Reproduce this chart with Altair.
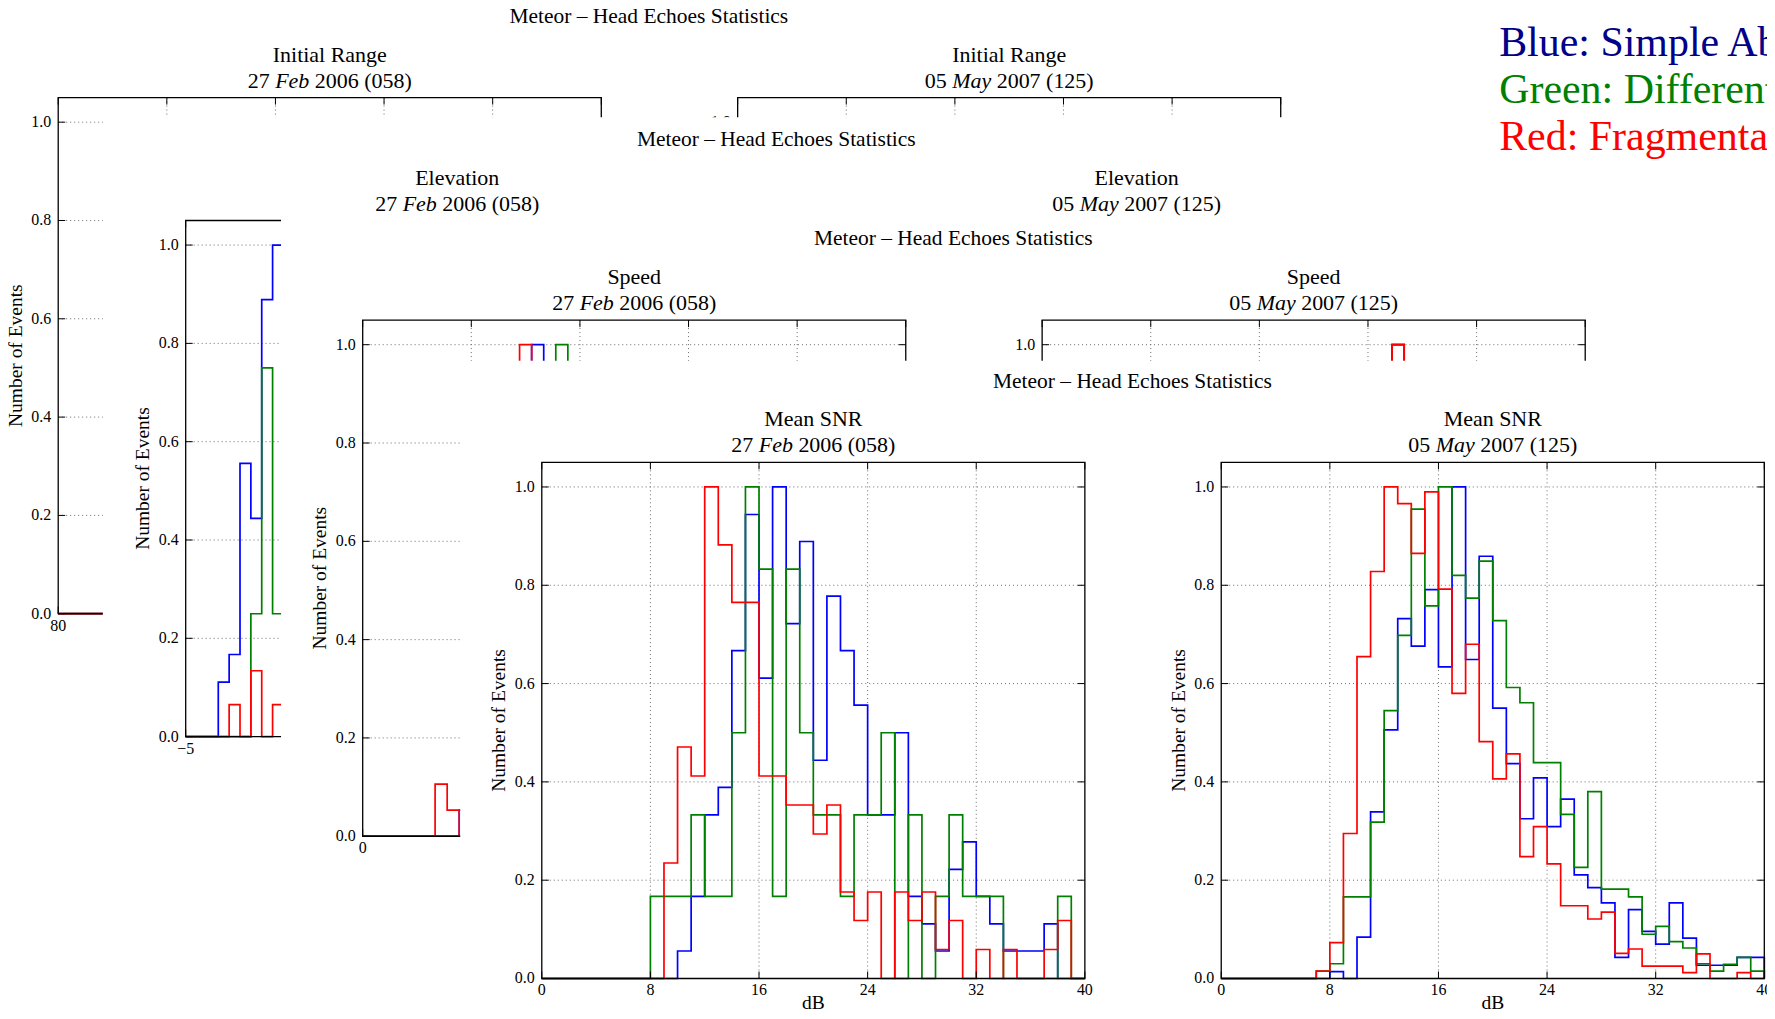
import altair as alt
import pandas as pd

FONT = "Liberation Serif"

# ------------------------------------------------------------------ data
Y_TICKS = [0.0, 0.2, 0.4, 0.6, 0.8, 1.0]
Y_TICK_LABELS = ["0.0", "0.2", "0.4", "0.6", "0.8", "1.0"]

RANGE_TICKS = [80, 90, 100, 110, 120, 130]
RANGE_TICK_LABELS = ["80", "90", "100", "110", "120", "130"]
ELEV_TICKS = [-5, 15, 35, 55, 75, 95]
ELEV_TICK_LABELS = ["\u22125", "15", "35", "55", "75", "95"]
SPEED_TICKS = [0, 15, 30, 45, 60, 75]
SPEED_TICK_LABELS = ["0", "15", "30", "45", "60", "75"]
SNR_TICKS = [0, 8, 16, 24, 32, 40]
SNR_TICK_LABELS = ["0", "8", "16", "24", "32", "40"]

# Initial Range, 27 Feb 2006 (only the first bins are visible)
range_feb_start, range_feb_bin = 80, 1
range_feb_blue = [0, 0, 0, 0, 0, 0]
range_feb_green = [0, 0, 0, 0, 0, 0]
range_feb_red = [0, 0, 0, 0, 0, 0]

# Elevation, 27 Feb 2006 (visible part), 2-degree bins from -5
elev_feb_start, elev_feb_bin = -5, 2
elev_feb_blue = [0, 0, 0, 0.111, 0.167, 0.556, 0.444, 0.889, 1.0]
elev_feb_green = [0, 0, 0, 0, 0, 0, 0.25, 0.75, 0.25]
elev_feb_red = [0, 0, 0, 0, 0.065, 0, 0.134, 0, 0.065]

# Speed (visible parts), bins of 5/3 km/s from 0
speed_bin = 5 / 3
speed_feb_blue = [0, 0, 0, 0, 0, 0, 0, 0, 0.053, 0, 0, 0, 0, 0, 1.0]
speed_feb_green = [0, 0, 0, 0, 0, 0, 0, 0, 0, 0, 0, 0, 0, 0, 0, 0, 1.0]
speed_feb_red = [0, 0, 0, 0, 0, 0, 0.106, 0.053, 0, 0, 0, 0, 0, 1.0]
speed_may_first_bin = 29
speed_may_blue = [1.0]
speed_may_green = [1.0]
speed_may_red = [1.0]

# Mean SNR, 1-dB bins from 0 to 40 dB
snr_start, snr_bin = 0, 1
snr_feb_blue = [0, 0, 0, 0, 0, 0, 0, 0, 0, 0,
                0.056, 0.167, 0.333, 0.389, 0.667, 0.944, 0.611, 1.0, 0.722, 0.889,
                0.444, 0.778, 0.667, 0.556, 0.333, 0.333, 0.5, 0.167, 0.111, 0.056,
                0.222, 0.278, 0.167, 0.111, 0.056, 0.056, 0.056, 0.111, 0.0, 0.0]
snr_feb_green = [0, 0, 0, 0, 0, 0, 0, 0, 0.167, 0.167,
                 0.167, 0.333, 0.167, 0.167, 0.5, 1.0, 0.833, 0.167, 0.833, 0.5,
                 0.333, 0.333, 0.167, 0.333, 0.333, 0.5, 0.0, 0.333, 0.0, 0.167,
                 0.333, 0.167, 0.167, 0.167, 0.0, 0.0, 0.0, 0.0, 0.167, 0.0]
snr_feb_red = [0, 0, 0, 0, 0, 0, 0, 0, 0, 0.235,
               0.471, 0.412, 1.0, 0.882, 0.765, 0.765, 0.412, 0.412, 0.353, 0.353,
               0.294, 0.353, 0.176, 0.118, 0.176, 0.0, 0.176, 0.118, 0.176, 0.059,
               0.118, 0.0, 0.059, 0.0, 0.059, 0.0, 0.0, 0.059, 0.118, 0.0]
snr_may_blue = [0, 0, 0, 0, 0, 0, 0, 0, 0.014, 0.0,
                0.084, 0.339, 0.506, 0.732, 0.676, 0.791, 0.634, 1.0, 0.649, 0.859,
                0.55, 0.437, 0.325, 0.408, 0.309, 0.365, 0.211, 0.185, 0.154, 0.043,
                0.14, 0.096, 0.07, 0.154, 0.082, 0.027, 0.027, 0.027, 0.043, 0.043]
snr_may_green = [0, 0, 0, 0, 0, 0, 0, 0.015, 0.03, 0.166,
                 0.166, 0.318, 0.545, 0.698, 0.955, 0.758, 1.0, 0.82, 0.774, 0.849,
                 0.728, 0.592, 0.561, 0.439, 0.439, 0.334, 0.226, 0.38, 0.182, 0.182,
                 0.166, 0.09, 0.106, 0.075, 0.062, 0.03, 0.015, 0.029, 0.043, 0.015]
snr_may_red = [0, 0, 0, 0, 0, 0, 0, 0.015, 0.073, 0.295,
               0.655, 0.828, 1.0, 0.966, 0.865, 0.99, 0.792, 0.58, 0.68, 0.482,
               0.406, 0.457, 0.248, 0.309, 0.233, 0.148, 0.148, 0.121, 0.135, 0.051,
               0.06, 0.025, 0.025, 0.025, 0.012, 0.05, 0.0, 0.0, 0.012, 0.0]

SUPTITLE = "Meteor \u2013 Head Echoes Statistics"
DATE_FEB = ("27", "Feb", "2006 (058)")
DATE_MAY = ("05", "May", "2007 (125)")
LEGEND_LINES = ["Blue: Simple Ablation", "Green: Differential Ablation", "Red: Fragmentation"]
LEGEND_COLORS = ["#000088", "#008000", "#ff0000"]

# ------------------------------------------------------------------ layout / style
W, H = 1762, 1003
OFF = 8.0
PW, PH = 544.0, 517.0
YMAX = 1.05
DX_RIGHT = 680.6
TICK_LEN = 7.0
TITLE_FS = 21.5
PANEL_FS = 22
TICK_FS = 16
LABEL_FS = 19.5
LEGEND_FS = 42

GRID = dict(color="#6a6a6a", strokeWidth=1, strokeDash=[1, 3])
COLORS = {"blue": "#0000ff", "green": "#008000", "red": "#ff0000"}

FIGS = [dict(L=58.3, B=613.9), dict(L=186.0, B=737.0),
        dict(L=363.3, B=836.8), dict(L=542.7, B=979.3)]
WINDOWS = [None, (103.0, 116.5), (281.5, 218.0), (461.0, 360.5)]

TIMES = {" ": 0.25, "(": 0.333, ")": 0.333}
TIMES_IT = {"F": 0.611, "e": 0.444, "b": 0.5, "M": 0.833, "a": 0.5, "y": 0.444}


def text_w(s, table):
    return sum(table.get(c, 0.5) for c in s)


def one_row():
    return pd.DataFrame({"k": [0]})


def step_frame(start, width, vals):
    xs, ys = [start], [0.0]
    for i, v in enumerate(vals):
        xs += [start + i * width, start + (i + 1) * width]
        ys += [v, v]
    xs.append(start + len(vals) * width)
    ys.append(0.0)
    return pd.DataFrame({"x": xs, "y": ys, "i": list(range(len(xs)))})


def panel(L, B, xdom, ticks, tick_labels, name, date, hists, xlabel=None):
    x0p = L - OFF
    yb = B - OFF
    sx = alt.Scale(domain=list(xdom), range=[x0p, x0p + PW], nice=False, zero=False)
    sy = alt.Scale(domain=[0, YMAX], range=[yb, yb - PH], nice=False, zero=False)

    def X(f):
        return alt.X(f"{f}:Q", scale=sx, axis=None)

    def Y(f):
        return alt.Y(f"{f}:Q", scale=sy, axis=None)

    xmin, xmax = xdom
    cx = (xmin + xmax) / 2
    tkx = TICK_LEN / PW * (xmax - xmin)
    tky = TICK_LEN / PH * YMAX
    layers = []

    inner_x = [t for t in ticks if xmin < t < xmax]
    inner_y = [t for t in Y_TICKS if 0 < t < YMAX]
    layers.append(alt.Chart(pd.DataFrame({"x": inner_x, "y0": 0.0, "y1": YMAX}))
                  .mark_rule(**GRID).encode(x=X("x"), y=Y("y0"), y2="y1"))
    layers.append(alt.Chart(pd.DataFrame({"y": inner_y, "x0": xmin, "x1": xmax}))
                  .mark_rule(**GRID).encode(y=Y("y"), x=X("x0"), x2="x1"))

    for color, start, width, vals in hists:
        layers.append(alt.Chart(step_frame(start, width, vals))
                      .mark_line(color=COLORS[color], strokeWidth=1.7, strokeJoin="miter")
                      .encode(x=X("x"), y=Y("y"), order="i:Q"))

    layers.append(alt.Chart(pd.DataFrame({"x0": [xmin], "x1": [xmax], "y0": [0.0], "y1": [YMAX]}))
                  .mark_rect(fill="white", fillOpacity=0, stroke="black", strokeWidth=1.3)
                  .encode(x=X("x0"), x2="x1", y=Y("y0"), y2="y1"))

    vt = pd.DataFrame({"x": ticks + ticks,
                       "a": [0.0] * len(ticks) + [YMAX] * len(ticks),
                       "b": [tky] * len(ticks) + [YMAX - tky] * len(ticks)})
    layers.append(alt.Chart(vt).mark_rule(color="black", strokeWidth=1)
                  .encode(x=X("x"), y=Y("a"), y2="b"))
    ht = pd.DataFrame({"y": Y_TICKS + Y_TICKS,
                       "a": [xmin] * len(Y_TICKS) + [xmax] * len(Y_TICKS),
                       "b": [xmin + tkx] * len(Y_TICKS) + [xmax - tkx] * len(Y_TICKS)})
    layers.append(alt.Chart(ht).mark_rule(color="black", strokeWidth=1)
                  .encode(y=Y("y"), x=X("a"), x2="b"))

    layers.append(alt.Chart(pd.DataFrame({"x": xmin, "y": Y_TICKS, "t": Y_TICK_LABELS}))
                  .mark_text(align="right", baseline="middle", dx=-7, font=FONT, fontSize=TICK_FS, color="black")
                  .encode(x=X("x"), y=Y("y"), text="t:N"))
    layers.append(alt.Chart(pd.DataFrame({"x": ticks, "y": 0.0, "t": tick_labels}))
                  .mark_text(align="center", baseline="top", dy=4, font=FONT, fontSize=TICK_FS, color="black")
                  .encode(x=X("x"), y=Y("y"), text="t:N"))

    layers.append(alt.Chart(pd.DataFrame({"x": [xmin], "y": [YMAX / 2]}))
                  .mark_text(text="Number of Events", angle=270, align="center", baseline="middle",
                             xOffset=-42.5, font=FONT, fontSize=LABEL_FS, color="black")
                  .encode(x=X("x"), y=Y("y")))
    if xlabel:
        layers.append(alt.Chart(pd.DataFrame({"x": [cx], "y": [0.0]}))
                      .mark_text(text=xlabel, align="center", baseline="middle", dy=25,
                                 font=FONT, fontSize=LABEL_FS, color="black")
                      .encode(x=X("x"), y=Y("y")))

    tdf = pd.DataFrame({"x": [cx], "y": [YMAX]})
    layers.append(alt.Chart(tdf).mark_text(text=name, align="center", baseline="middle", dy=-43,
                                           font=FONT, fontSize=PANEL_FS, color="black")
                  .encode(x=X("x"), y=Y("y")))
    pre, mon, suf = date
    fs = PANEL_FS
    w_pre = text_w(pre, TIMES) * fs
    w_sp = 0.25 * fs
    w_mon = text_w(mon, TIMES_IT) * fs
    w_suf = text_w(suf, TIMES) * fs
    start = -(w_pre + w_sp + w_mon + w_sp + w_suf) / 2
    pieces = [(pre, "right", start + w_pre, "normal"),
              (mon, "left", start + w_pre + w_sp, "italic"),
              (suf, "left", start + w_pre + w_sp + w_mon + w_sp, "normal")]
    for txt, al, dx, style in pieces:
        layers.append(alt.Chart(tdf).mark_text(text=txt, align=al, baseline="middle", dx=dx, dy=-17,
                                               fontStyle=style, font=FONT, fontSize=fs, color="black")
                      .encode(x=X("x"), y=Y("y")))
    return alt.layer(*layers)


def figure(idx, name, left_spec, right_spec, xlabel=None):
    f = FIGS[idx]
    out = []
    if WINDOWS[idx] is not None:
        wl, wt = WINDOWS[idx]
        out.append(alt.Chart(one_row()).mark_rect(fill="white")
                   .encode(x=alt.value(wl - OFF), x2=alt.value(W), y=alt.value(wt - OFF), y2=alt.value(H)))
    out.append(alt.Chart(one_row()).mark_text(text=SUPTITLE, align="center", baseline="middle",
                                              font=FONT, fontSize=TITLE_FS, color="black")
               .encode(x=alt.value(f["L"] + 591.6 - OFF), y=alt.value(f["B"] - PH - 81 - OFF)))
    xdom, ticks, labels = left_spec[0], left_spec[1], left_spec[2]
    out.append(panel(f["L"], f["B"], xdom, ticks, labels, name, DATE_FEB, left_spec[3], xlabel))
    out.append(panel(f["L"] + DX_RIGHT, f["B"], xdom, ticks, labels, name, DATE_MAY, right_spec, xlabel))
    return out


layers = []
layers += figure(0, "Initial Range",
                 ((80, 130), RANGE_TICKS, RANGE_TICK_LABELS,
                  [("blue", range_feb_start, range_feb_bin, range_feb_blue),
                   ("green", range_feb_start, range_feb_bin, range_feb_green),
                   ("red", range_feb_start, range_feb_bin, range_feb_red)]),
                 [])
layers += figure(1, "Elevation",
                 ((-5, 95), ELEV_TICKS, ELEV_TICK_LABELS,
                  [("blue", elev_feb_start, elev_feb_bin, elev_feb_blue),
                   ("green", elev_feb_start, elev_feb_bin, elev_feb_green),
                   ("red", elev_feb_start, elev_feb_bin, elev_feb_red)]),
                 [])
may_start = speed_may_first_bin * speed_bin
layers += figure(2, "Speed",
                 ((0, 75), SPEED_TICKS, SPEED_TICK_LABELS,
                  [("blue", 0, speed_bin, speed_feb_blue),
                   ("green", 0, speed_bin, speed_feb_green),
                   ("red", 0, speed_bin, speed_feb_red)]),
                 [("blue", may_start, speed_bin, speed_may_blue),
                  ("green", may_start, speed_bin, speed_may_green),
                  ("red", may_start, speed_bin, speed_may_red)])
layers += figure(3, "Mean SNR",
                 ((0, 40), SNR_TICKS, SNR_TICK_LABELS,
                  [("blue", snr_start, snr_bin, snr_feb_blue),
                   ("green", snr_start, snr_bin, snr_feb_green),
                   ("red", snr_start, snr_bin, snr_feb_red)]),
                 [("blue", snr_start, snr_bin, snr_may_blue),
                  ("green", snr_start, snr_bin, snr_may_green),
                  ("red", snr_start, snr_bin, snr_may_red)],
                 xlabel="dB")

LEGEND_X = 1501.7
LEGEND_BASELINES = [55.0, 102.0, 149.5]
for txt, col, yb in zip(LEGEND_LINES, LEGEND_COLORS, LEGEND_BASELINES):
    layers.append(alt.Chart(one_row()).mark_text(text=txt, align="left", baseline="alphabetic",
                                                 font=FONT, fontSize=LEGEND_FS, color=col)
                  .encode(x=alt.value(LEGEND_X - OFF), y=alt.value(yb - OFF)))

chart = (alt.layer(*layers)
         .resolve_scale(x="independent", y="independent")
         .properties(width=W, height=H, padding=0, autosize=alt.AutoSizeParams(type="none"))
         .configure_view(stroke=None))

chart.save("out.html", embed_options={"renderer": "svg", "actions": False})
